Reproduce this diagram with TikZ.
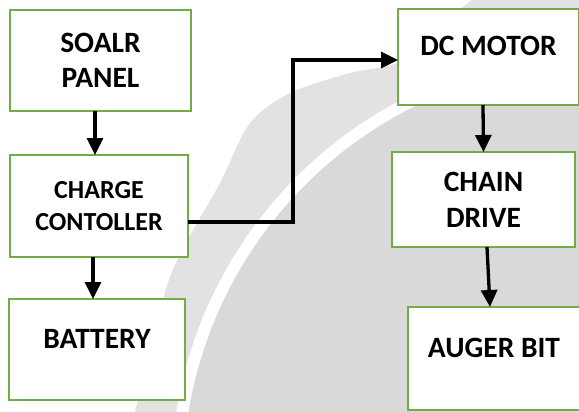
\documentclass[tikz,border=0pt]{standalone}
\usepackage{fontspec}
\setmainfont{Carlito}
\usetikzlibrary{arrows.meta, positioning}
\definecolor{boxgreen}{RGB}{112,173,71}
\definecolor{markgrey}{RGB}{226,226,226}
\definecolor{markdark}{RGB}{217,217,217}

\begin{document}
\begin{tikzpicture}[
        x=1pt, y=-1pt,
        blk/.style={rectangle, draw=boxgreen, line width=1.6pt, fill=white, outer sep=0pt, font=\fontsize{29.5}{35}\selectfont\bfseries},
        blktwo/.style={blk, align=center},
        blkone/.style={blk, text depth=22pt},
        flow/.style={-{Triangle[length=17pt,width=16pt]}, line width=3.3pt},
    ]
    \useasboundingbox (0,0) rectangle (579,412);
    \clip (0,0) rectangle (579,412);

    % watermark behind the blocks
    \fill[markgrey] plot[smooth] coordinates {(135,412) (170,277) (220,183) (250,123) (290,93) (350,73) (397,63) (430,35) (463,7) (478,-5)}
        -- (590,-5) -- (590,420) -- cycle;
    \fill[white] (600,480) circle[radius=429pt];
    \fill[markdark] (600,480) circle[radius=417pt];

    % left column
    \node[blktwo, minimum width=181pt, minimum height=101pt] (panel) at (100.5,60.5) {SOALR\\PANEL};
    \node[blktwo, minimum width=178pt, minimum height=102pt, font=\fontsize{26}{32}\selectfont\bfseries,
          below=44pt of panel, xshift=-1.5pt] (charge) {CHARGE\\CONTOLLER};
    \node[blkone, minimum width=176pt, minimum height=101pt, below=42pt of charge, xshift=-2pt] (battery) {BATTERY};

    % right column
    \node[blkone, minimum width=181pt, minimum height=96pt] (motor) at (488.5,57) {DC MOTOR};
    \node[blktwo, minimum width=183pt, minimum height=95pt, font=\fontsize{29.5}{36}\selectfont\bfseries,
          below=47pt of motor, xshift=-5pt] (chain) {CHAIN\\DRIVE};
    \node[blkone, minimum width=172pt, minimum height=103pt, below=60pt of chain, xshift=10.5pt] (auger) {AUGER BIT};

    \coordinate (turn) at (293,222);

    % arrows
    \draw[flow] ([xshift=-5.5pt]panel.south) -- ([xshift=-4pt]charge.north);
    \draw[flow] ([xshift=-6pt]charge.south) -- ([xshift=-4pt]battery.north);
    \draw[flow] ([yshift=-16pt]charge.east) -- (turn) |- ([yshift=-3pt]motor.west);
    \draw[flow] ([xshift=-5.5pt]motor.south) -- (chain.north);
    \draw[flow] ([xshift=3.5pt]chain.south) -- ([xshift=-4pt]auger.north);
\end{tikzpicture}
\end{document}
